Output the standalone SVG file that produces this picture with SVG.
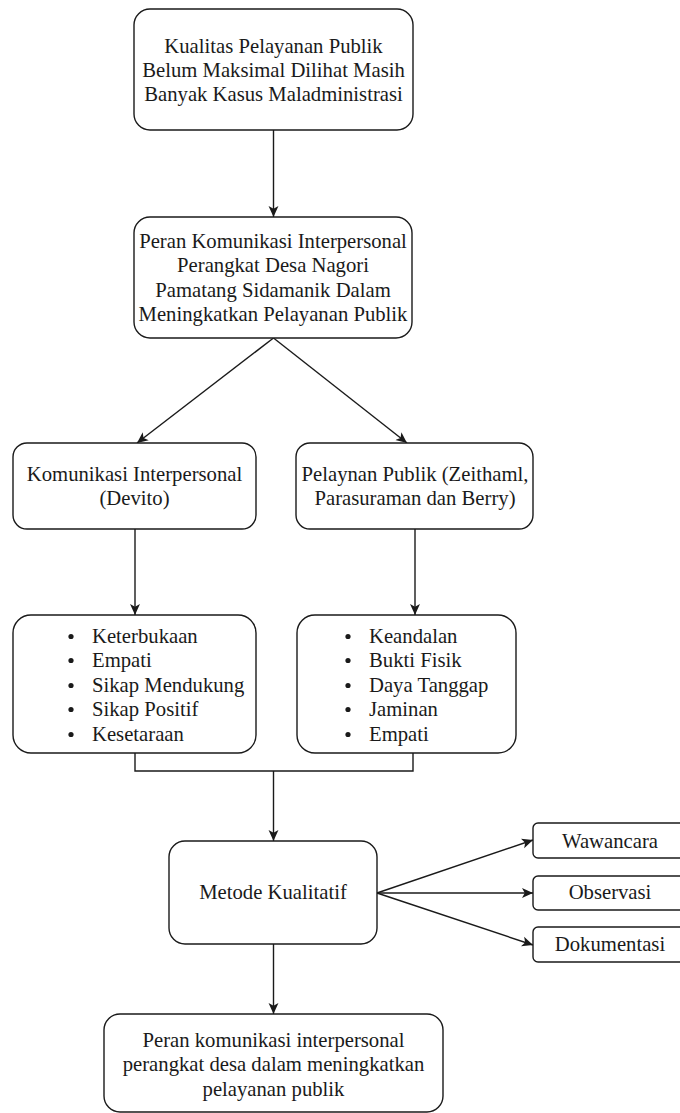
<svg xmlns="http://www.w3.org/2000/svg" width="680" height="1113" viewBox="0 0 680 1113">
<style>
.box{fill:#fff;stroke:#1a1a1a;stroke-width:1.4}
.t{font-size:20.7px;fill:#1a1a1a}
.c{text-anchor:middle}
.ln{fill:none;stroke:#1a1a1a;stroke-width:1.4}
.b{fill:#1a1a1a}
</style>
<defs>
<marker id="arr" viewBox="0 0 10 10" refX="10" refY="5" markerWidth="11" markerHeight="11" markerUnits="userSpaceOnUse" orient="auto">
<path d="M0,0.5 L10,5 L0,9.5 L2.5,5 z" fill="#1a1a1a"/>
</marker>
</defs>
<rect width="680" height="1113" fill="#fff"/>
<g id="connectors">
<line class="ln" x1="273.5" y1="130" x2="273.5" y2="217" marker-end="url(#arr)"/>
<line class="ln" x1="273.5" y1="338" x2="137" y2="443" marker-end="url(#arr)"/>
<line class="ln" x1="273.5" y1="338" x2="407" y2="443" marker-end="url(#arr)"/>
<line class="ln" x1="135" y1="529" x2="135" y2="615" marker-end="url(#arr)"/>
<line class="ln" x1="415" y1="529" x2="415" y2="615" marker-end="url(#arr)"/>
<polyline class="ln" points="135,753 135,771 413,771 413,753"/>
<line class="ln" x1="273.5" y1="771" x2="273.5" y2="841" marker-end="url(#arr)"/>
<line class="ln" x1="377" y1="893" x2="533" y2="840" marker-end="url(#arr)"/>
<line class="ln" x1="377" y1="893" x2="533" y2="893" marker-end="url(#arr)"/>
<line class="ln" x1="377" y1="893" x2="533" y2="945" marker-end="url(#arr)"/>
<line class="ln" x1="273.5" y1="944" x2="273.5" y2="1014" marker-end="url(#arr)"/>
</g>
<g id="n1">
<rect class="box" x="134" y="9" width="279" height="121" rx="16"/>
<text class="t c" font-family="Liberation Serif" x="273.5" y="53">Kualitas Pelayanan Publik</text>
<text class="t c" font-family="Liberation Serif" x="273.5" y="77">Belum Maksimal Dilihat Masih</text>
<text class="t c" font-family="Liberation Serif" x="273.5" y="101">Banyak Kasus Maladministrasi</text>
</g>
<g id="n2">
<rect class="box" x="134" y="217" width="278" height="121" rx="16"/>
<text class="t c" font-family="Liberation Serif" x="273" y="248">Peran Komunikasi Interpersonal</text>
<text class="t c" font-family="Liberation Serif" x="273" y="272">Perangkat Desa Nagori</text>
<text class="t c" font-family="Liberation Serif" x="273" y="297">Pamatang Sidamanik Dalam</text>
<text class="t c" font-family="Liberation Serif" x="273" y="321">Meningkatkan Pelayanan Publik</text>
</g>
<g id="n3">
<rect class="box" x="13" y="443" width="243" height="86" rx="14"/>
<text class="t c" font-family="Liberation Serif" x="134.5" y="481">Komunikasi Interpersonal</text>
<text class="t c" font-family="Liberation Serif" x="134.5" y="505">(Devito)</text>
</g>
<g id="n4">
<rect class="box" x="296" y="443" width="237" height="86" rx="14"/>
<text class="t c" font-family="Liberation Serif" x="415" y="481">Pelaynan Publik (Zeithaml,</text>
<text class="t c" font-family="Liberation Serif" x="415" y="505">Parasuraman dan Berry)</text>
</g>
<g id="n5">
<rect class="box" x="13" y="615" width="243" height="138" rx="18"/>
<circle class="b" cx="71" cy="636.5" r="2.6"/><text class="t" font-family="Liberation Serif" x="92" y="643">Keterbukaan</text>
<circle class="b" cx="71" cy="660.5" r="2.6"/><text class="t" font-family="Liberation Serif" x="92" y="667">Empati</text>
<circle class="b" cx="71" cy="685.5" r="2.6"/><text class="t" font-family="Liberation Serif" x="92" y="692">Sikap Mendukung</text>
<circle class="b" cx="71" cy="709.5" r="2.6"/><text class="t" font-family="Liberation Serif" x="92" y="716">Sikap Positif</text>
<circle class="b" cx="71" cy="734.5" r="2.6"/><text class="t" font-family="Liberation Serif" x="92" y="741">Kesetaraan</text>
</g>
<g id="n6">
<rect class="box" x="297" y="615" width="219" height="138" rx="18"/>
<circle class="b" cx="348" cy="636.5" r="2.6"/><text class="t" font-family="Liberation Serif" x="369" y="643">Keandalan</text>
<circle class="b" cx="348" cy="660.5" r="2.6"/><text class="t" font-family="Liberation Serif" x="369" y="667">Bukti Fisik</text>
<circle class="b" cx="348" cy="685.5" r="2.6"/><text class="t" font-family="Liberation Serif" x="369" y="692">Daya Tanggap</text>
<circle class="b" cx="348" cy="709.5" r="2.6"/><text class="t" font-family="Liberation Serif" x="369" y="716">Jaminan</text>
<circle class="b" cx="348" cy="734.5" r="2.6"/><text class="t" font-family="Liberation Serif" x="369" y="741">Empati</text>
</g>
<g id="n7">
<rect class="box" x="169" y="841" width="208" height="103" rx="16"/>
<text class="t c" font-family="Liberation Serif" x="273" y="899">Metode Kualitatif</text>
</g>
<g id="n8">
<rect class="box" x="533" y="823" width="156" height="35" rx="5"/>
<text class="t c" font-family="Liberation Serif" x="610" y="848">Wawancara</text>
</g>
<g id="n9">
<rect class="box" x="533" y="876" width="156" height="34" rx="5"/>
<text class="t c" font-family="Liberation Serif" x="610" y="899">Observasi</text>
</g>
<g id="n10">
<rect class="box" x="533" y="927" width="156" height="35" rx="5"/>
<text class="t c" font-family="Liberation Serif" x="610" y="951">Dokumentasi</text>
</g>
<g id="n11">
<rect class="box" x="104" y="1014" width="339" height="98" rx="16"/>
<text class="t c" font-family="Liberation Serif" x="273.5" y="1047">Peran komunikasi interpersonal</text>
<text class="t c" font-family="Liberation Serif" x="273.5" y="1071">perangkat desa dalam meningkatkan</text>
<text class="t c" font-family="Liberation Serif" x="273.5" y="1096">pelayanan publik</text>
</g>
</svg>
